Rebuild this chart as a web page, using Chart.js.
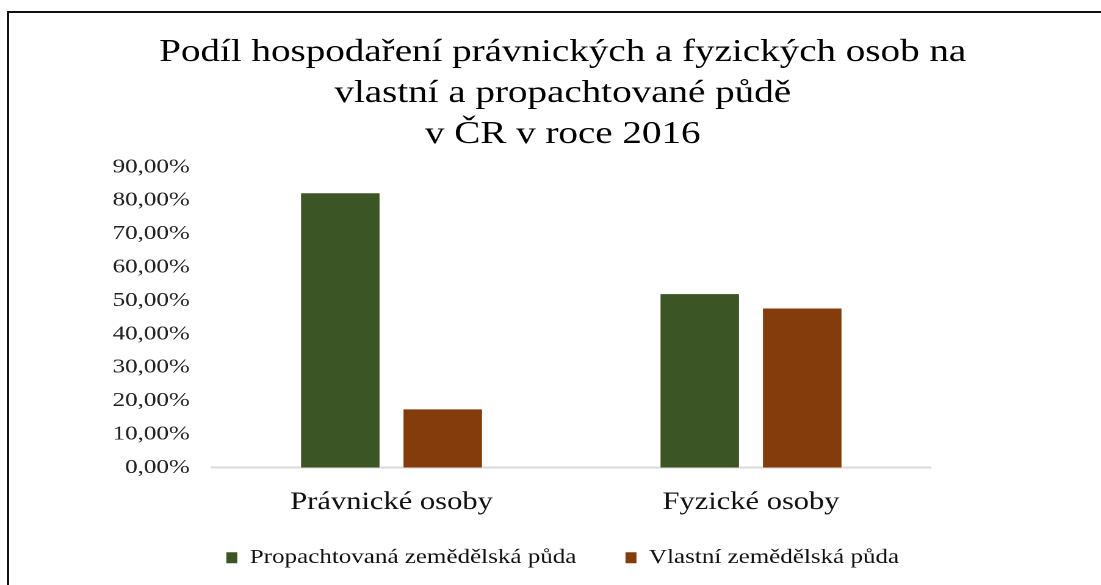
<!DOCTYPE html>
<html>
<head>
<meta charset="utf-8">
<script src="https://cdn.jsdelivr.net/npm/chart.js@4"></script>
<style>
  html, body { margin: 0; padding: 0; background: #fff; overflow: hidden; width: 1101px; height: 585px; }
  #frame { position: absolute; left: 7px; top: 11px; width: 1200px; height: 700px; border-top: 2px solid #111; border-left: 2px solid #111; box-sizing: border-box; }
  #wrap { position: absolute; left: 0; top: 0; width: 902px; height: 585px; transform: scaleX(1.22062); transform-origin: 0 0; }
</style>
</head>
<body>
<div id="frame"></div>
<div id="wrap"><canvas id="c" width="902" height="585"></canvas></div>
<script>
const titleLines = ['Podíl hospodaření právnických a fyzických osob na', 'vlastní a propachtované půdě', 'v ČR v roce 2016'];
const categories = ['Právnické osoby', 'Fyzické osoby'];
const seriesNames = ['Propachtovaná zemědělská půda', 'Vlastní zemědělská půda'];
const propachtovana = [82.4, 52.2];
const vlastni = [17.7, 47.9];
const yMin = 0, yMax = 90, yStep = 10;

const serif = "'Liberation Serif', 'Times New Roman', serif";

new Chart(document.getElementById('c'), {
  type: 'bar',
  data: {
    labels: categories,
    datasets: [
      { label: seriesNames[0], data: propachtovana, backgroundColor: '#3B5624', borderColor: 'rgba(255,255,255,0.35)', borderWidth: 1, categoryPercentage: 0.57, barPercentage: 0.79 },
      { label: seriesNames[1], data: vlastni, backgroundColor: '#843C0C', borderColor: 'rgba(255,255,255,0.35)', borderWidth: 1, categoryPercentage: 0.57, barPercentage: 0.79 }
    ]
  },
  options: {
    responsive: false,
    devicePixelRatio: 2,
    animation: false,
    layout: { padding: { left: 20, right: 0, top: 0, bottom: 7 } },
    plugins: {
      title: {
        display: true,
        text: titleLines,
        color: '#000',
        font: { family: serif, size: 32, weight: 'normal', lineHeight: 1.28 },
        padding: { top: 32, bottom: 12 }
      },
      legend: {
        display: true,
        position: 'bottom',
        labels: {
          color: '#111',
          font: { family: serif, size: 20.5 },
          boxWidth: 9,
          boxHeight: 11,
          padding: 30,
          generateLabels: (chart) => {
            const items = Chart.defaults.plugins.legend.labels.generateLabels(chart);
            items.forEach((it, i) => {
              it.lineWidth = 0;
              it.strokeStyle = it.fillStyle;
              if (i < items.length - 1) it.text = it.text + '  ';
            });
            return items;
          }
        }
      },
      tooltip: { enabled: false }
    },
    scales: {
      x: {
        grid: { display: false },
        border: { display: true, color: '#d9d9d9', width: 2 },
        ticks: { color: '#111', font: { family: serif, size: 25 }, padding: 12 },
        afterFit: (s) => { s.height = 50; }
      },
      y: {
        min: yMin, max: yMax,
        grid: { display: false },
        border: { display: false },
        ticks: {
          stepSize: yStep,
          color: '#222',
          padding: 10,
          font: { family: serif, size: 20.5 },
          callback: (v) => v.toFixed(2).replace('.', ',') + '%'
        },
        afterFit: (s) => { s.width = 153.5; }
      },
      y2: {
        type: 'linear',
        position: 'right',
        display: true,
        grid: { display: false },
        border: { display: false },
        ticks: { display: false },
        afterFit: (s) => { s.width = 139.5; }
      }
    }
  }
});
</script>
</body>
</html>
